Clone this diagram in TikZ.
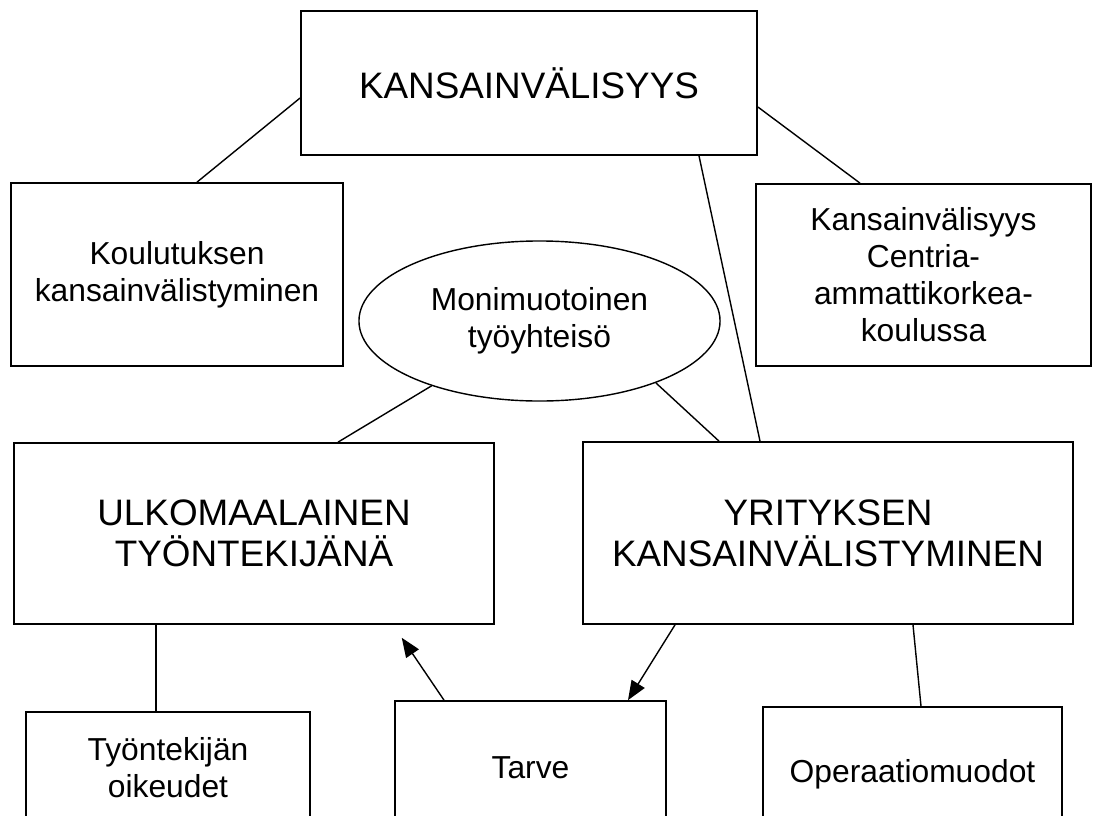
\documentclass[tikz,border=0pt]{standalone}
\usepackage{fontspec}
\setmainfont{Liberation Sans}
\usetikzlibrary{arrows.meta,calc,shapes.geometric}

\begin{document}
\begin{tikzpicture}[
            x=0.025cm, y=-0.025cm,
            box/.style={draw, line width=1.2pt, align=center, inner sep=0pt},
            bigtext/.style={font=\fontsize{26.2}{29.4}\selectfont},
            smalltext/.style={font=\fontsize{22.6}{26.3}\selectfont},
            link/.style={line width=1pt},
            >={Triangle[length=0.48cm, width=0.38cm]}
        ]
        \clip (0,0) rectangle (1093,816);

        \node[box, bigtext, minimum width=11.4cm, minimum height=3.6cm] (kv) at (529,83) {KANSAINVÄLISYYS};
        \node[box, smalltext, minimum width=8.3cm, minimum height=4.575cm] (kou) at (177,274.5) {Koulutuksen\\kansainvälistyminen};
        \node[box, smalltext, minimum width=8.375cm, minimum height=4.55cm] (kvc) at (923.5,275) {Kansainvälisyys\\Centria-\\ammattikorkea-\\koulussa};
        \node[draw, ellipse, line width=1pt, smalltext, align=center, minimum width=9.025cm, minimum height=4cm] (ell) at (539.5,321) {Monimuotoinen\\työyhteisö};
        \node[box, bigtext, minimum width=12cm, minimum height=4.525cm] (ulk) at (254,533.5) {ULKOMAALAINEN\\TYÖNTEKIJÄNÄ};
        \node[box, bigtext, minimum width=12.25cm, minimum height=4.55cm] (yrit) at (828,533) {YRITYKSEN\\KANSAINVÄLISTYMINEN};
        \node[box, smalltext, minimum width=7.1cm, minimum height=2.8cm] (tyo) at (168,768) {Työntekijän\\oikeudet};
        \node[box, smalltext, minimum width=6.775cm, minimum height=3.35cm] (tarve) at (530.5,768) {Tarve};
        \node[box, smalltext, minimum width=7.475cm, minimum height=3.375cm] (oper) at (912.5,774.5) {Operaatiomuodot};

        \draw[link] ($(kv.west)+(0,15)$) -- ($(kou.north)+(20,0)$);
        \draw[link] ($(kv.east)+(0,24)$) -- ($(kvc.north)+(-63.5,0)$);
        \draw[link] ($(kv.south)+(170,0)$) -- ($(yrit.north)+(-68,0)$);
        \draw[link] (ell.211) -- ($(ulk.north)+(84,0)$);
        \draw[link] (ell.-28) -- ($(yrit.north)+(-109,0)$);
        \draw[link] ($(ulk.south)+(-98,0)$) -- ($(tyo.north)+(-12,0)$);
        \draw[link] ($(yrit.south)+(85,0)$) -- ($(oper.north)+(8.5,0)$);
        \draw[link, ->, shorten >=0.39cm] ($(tarve.north)+(-86.5,0)$) -- ($(ulk.south)+(139,0)$);
        \draw[link, ->] ($(yrit.south)+(-153,0)$) -- ($(tarve.north)+(97.5,0)$);
    \end{tikzpicture}
\end{document}
